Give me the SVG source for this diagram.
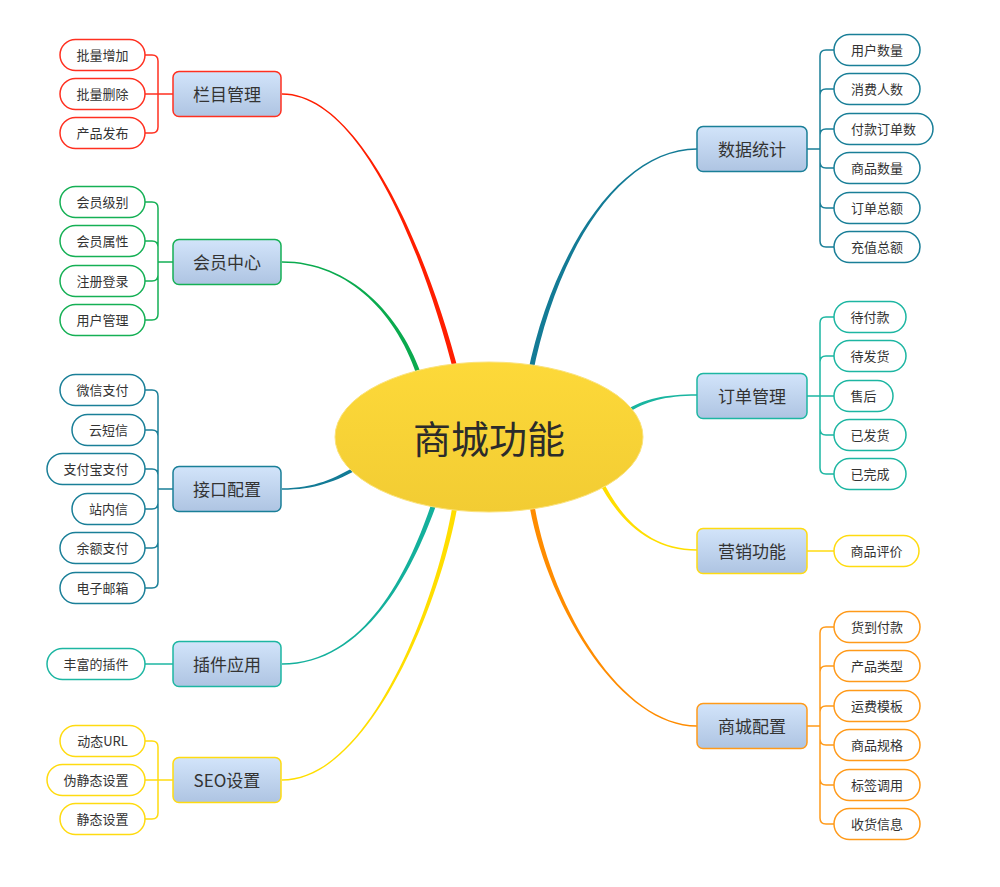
<svg xmlns="http://www.w3.org/2000/svg" width="1000" height="887" viewBox="0 0 1000 887">
<defs>
<linearGradient id="gBox" x1="0" y1="0" x2="0" y2="1"><stop offset="0" stop-color="#D2E4FA"/><stop offset="1" stop-color="#AEC4E2"/></linearGradient>
<linearGradient id="gCenter" x1="0" y1="0" x2="0" y2="1"><stop offset="0" stop-color="#FDD939"/><stop offset="1" stop-color="#F2CC33"/></linearGradient>
</defs>
<style>
text{font-family:"Noto Sans CJK SC","Noto Sans",sans-serif;fill:#333;text-anchor:middle;dominant-baseline:central;transform:translateY(-1px)}
.box{fill:url(#gBox);stroke-width:1.5}
.bt{font-size:17px}
.leaf rect{fill:#fff;stroke-width:1.5}
.leaf text{font-size:13px}
.ln{fill:none;stroke-width:1.5}
.red{stroke:#FF3020}.green{stroke:#15B055}.dteal{stroke:#1A7F98}.teal{stroke:#1DB6A2}.yel{stroke:#FFDB10}.org{stroke:#FF9A1A}
</style>
<rect width="1000" height="887" fill="#fff"/>
<g id="connectors">
<path fill="#FF1E00" d="M282,94.75 C360,94.75 423.1,250.5 454.6,375.6 L459.4,374.4 C426.9,249.5 360,93.25 282,93.25 Z"/>
<path fill="#0AAA4E" d="M282,262.75 C350,262.75 398.3,315.55 418.8,380.7 L423.2,379.3 C401.7,314.45 350,261.25 282,261.25 Z"/>
<path fill="#137B96" d="M697,148.25 C620,148.25 553,249.6 527.5,374.5 L532.5,375.5 C557,250.4 620,149.75 697,149.75 Z"/>
<path fill="#137B96" d="M282,489.75 C315,489.75 335.8,481.4 361,467.75 L359,464.25 C334.2,478.6 315,488.25 282,488.25 Z"/>
<path fill="#14B09C" d="M282,664.75 C370,664.75 416.9,560.6 438.4,498.8 L433.6,497.2 C413.1,559.4 370,663.25 282,663.25 Z"/>
<path fill="#FFDE00" d="M282,780.75 C370,780.75 442,600.3 458.5,500.4 L453.5,499.6 C438,599.7 370,779.25 282,779.25 Z"/>
<path fill="#19B5A0" d="M697,394.25 C665,394.25 644.25,398.8 625,410.5 L627,413.5 C645.75,401.2 665,395.75 697,395.75 Z"/>
<path fill="#FFDE00" d="M697,549.25 C650,549.25 621.4,519.3 601.8,479.1 L598.2,480.9 C618.6,520.7 650,550.75 697,550.75 Z"/>
<path fill="#FF8C00" d="M697,725.25 C620,725.25 550,604.7 533.5,499.6 L528.5,500.4 C546,605.3 620,726.75 697,726.75 Z"/>
<path class="ln red" d="M173,94H158M158,94V61Q158,55 152,55H145M158,94H145M158,94V127Q158,133 152,133H145"/>
<path class="ln green" d="M173,262H158M158,262V208Q158,202 152,202H145M158,262V247Q158,241 152,241H145M158,262V275Q158,281 152,281H145M158,262V314Q158,320 152,320H145"/>
<path class="ln dteal" d="M173,489H158M158,489V396Q158,390 152,390H145M158,489V436Q158,430 152,430H145M158,489V475Q158,469 152,469H145M158,489V503Q158,509 152,509H145M158,489V542Q158,548 152,548H145M158,489V582Q158,588 152,588H145"/>
<path class="ln teal" d="M173,664H145"/>
<path class="ln yel" d="M173,780H158M158,780V747Q158,741 152,741H145M158,780H145M158,780V813Q158,819 152,819H145"/>
<path class="ln dteal" d="M807,149H820M820,149V56Q820,50 826,50H834M820,149V95Q820,89 826,89H834M820,149V135Q820,129 826,129H834M820,149V162Q820,168 826,168H834M820,149V202Q820,208 826,208H834M820,149V241Q820,247 826,247H834"/>
<path class="ln teal" d="M807,396H820M820,396V323Q820,317 826,317H834M820,396V362Q820,356 826,356H834M820,396H834M820,396V429Q820,435 826,435H834M820,396V468Q820,474 826,474H834"/>
<path class="ln yel" d="M807,551H834"/>
<path class="ln org" d="M807,726H820M820,726V633Q820,627 826,627H834M820,726V672Q820,666 826,666H834M820,726V712Q820,706 826,706H834M820,726V739Q820,745 826,745H834M820,726V779Q820,785 826,785H834M820,726V818Q820,824 826,824H834"/>
</g>
<g id="center">
<ellipse cx="489" cy="437" rx="154" ry="75" fill="url(#gCenter)" stroke="#FBE27A" stroke-width="1"/>
<text x="489" y="437" font-size="38" style="fill:#2B2B2B">商城功能</text>
</g>
<g id="n-lanmu"><rect class="box red" x="173" y="71.5" width="108" height="45" rx="6"/><text class="bt" x="227" y="94">栏目管理</text></g>
<g id="n-huiyuan"><rect class="box green" x="173" y="239.5" width="108" height="45" rx="6"/><text class="bt" x="227" y="262">会员中心</text></g>
<g id="n-jiekou"><rect class="box dteal" x="173" y="466.5" width="108" height="45" rx="6"/><text class="bt" x="227" y="489">接口配置</text></g>
<g id="n-chajian"><rect class="box teal" x="173" y="641.5" width="108" height="45" rx="6"/><text class="bt" x="227" y="664">插件应用</text></g>
<g id="n-seo"><rect class="box yel" x="173" y="757.5" width="108" height="45" rx="6"/><text class="bt" x="227" y="780">SEO设置</text></g>
<g id="n-shuju"><rect class="box dteal" x="697" y="126.5" width="110" height="45" rx="6"/><text class="bt" x="752" y="149">数据统计</text></g>
<g id="n-dingdan"><rect class="box teal" x="697" y="373.5" width="110" height="45" rx="6"/><text class="bt" x="752" y="396">订单管理</text></g>
<g id="n-yingxiao"><rect class="box yel" x="697" y="528.5" width="110" height="45" rx="6"/><text class="bt" x="752" y="551">营销功能</text></g>
<g id="n-peizhi"><rect class="box org" x="697" y="703.5" width="110" height="45" rx="6"/><text class="bt" x="752" y="726">商城配置</text></g>
<g id="l-lanmu">
<g class="leaf" id="l1"><rect class="red" x="60" y="39.5" width="85" height="31" rx="15.5"/><text x="102.5" y="55">批量增加</text></g>
<g class="leaf" id="l2"><rect class="red" x="60" y="78.5" width="85" height="31" rx="15.5"/><text x="102.5" y="94">批量删除</text></g>
<g class="leaf" id="l3"><rect class="red" x="60" y="117.5" width="85" height="31" rx="15.5"/><text x="102.5" y="133">产品发布</text></g>
</g>
<g id="l-huiyuan">
<g class="leaf" id="l4"><rect class="green" x="60" y="186.5" width="85" height="31" rx="15.5"/><text x="102.5" y="202">会员级别</text></g>
<g class="leaf" id="l5"><rect class="green" x="60" y="225.5" width="85" height="31" rx="15.5"/><text x="102.5" y="241">会员属性</text></g>
<g class="leaf" id="l6"><rect class="green" x="60" y="265.5" width="85" height="31" rx="15.5"/><text x="102.5" y="281">注册登录</text></g>
<g class="leaf" id="l7"><rect class="green" x="60" y="304.5" width="85" height="31" rx="15.5"/><text x="102.5" y="320">用户管理</text></g>
</g>
<g id="l-jiekou">
<g class="leaf" id="l8"><rect class="dteal" x="60" y="374.5" width="85" height="31" rx="15.5"/><text x="102.5" y="390">微信支付</text></g>
<g class="leaf" id="l9"><rect class="dteal" x="72" y="414.5" width="73" height="31" rx="15.5"/><text x="108.5" y="430">云短信</text></g>
<g class="leaf" id="l10"><rect class="dteal" x="47" y="453.5" width="98" height="31" rx="15.5"/><text x="96" y="469">支付宝支付</text></g>
<g class="leaf" id="l11"><rect class="dteal" x="72" y="493.5" width="73" height="31" rx="15.5"/><text x="108.5" y="509">站内信</text></g>
<g class="leaf" id="l12"><rect class="dteal" x="60" y="532.5" width="85" height="31" rx="15.5"/><text x="102.5" y="548">余额支付</text></g>
<g class="leaf" id="l13"><rect class="dteal" x="60" y="572.5" width="85" height="31" rx="15.5"/><text x="102.5" y="588">电子邮箱</text></g>
</g>
<g id="l-chajian">
<g class="leaf" id="l14"><rect class="teal" x="47" y="648.5" width="98" height="31" rx="15.5"/><text x="96" y="664">丰富的插件</text></g>
</g>
<g id="l-seo">
<g class="leaf" id="l15"><rect class="yel" x="60" y="725.5" width="85" height="31" rx="15.5"/><text x="102.5" y="741">动态URL</text></g>
<g class="leaf" id="l16"><rect class="yel" x="47" y="764.5" width="98" height="31" rx="15.5"/><text x="96" y="780">伪静态设置</text></g>
<g class="leaf" id="l17"><rect class="yel" x="60" y="803.5" width="85" height="31" rx="15.5"/><text x="102.5" y="819">静态设置</text></g>
</g>
<g id="l-shuju">
<g class="leaf" id="r1"><rect class="dteal" x="834" y="34.5" width="86" height="31" rx="15.5"/><text x="877" y="50">用户数量</text></g>
<g class="leaf" id="r2"><rect class="dteal" x="834" y="73.5" width="86" height="31" rx="15.5"/><text x="877" y="89">消费人数</text></g>
<g class="leaf" id="r3"><rect class="dteal" x="834" y="113.5" width="99" height="31" rx="15.5"/><text x="883.5" y="129">付款订单数</text></g>
<g class="leaf" id="r4"><rect class="dteal" x="834" y="152.5" width="86" height="31" rx="15.5"/><text x="877" y="168">商品数量</text></g>
<g class="leaf" id="r5"><rect class="dteal" x="834" y="192.5" width="86" height="31" rx="15.5"/><text x="877" y="208">订单总额</text></g>
<g class="leaf" id="r6"><rect class="dteal" x="834" y="231.5" width="86" height="31" rx="15.5"/><text x="877" y="247">充值总额</text></g>
</g>
<g id="l-dingdan">
<g class="leaf" id="r7"><rect class="teal" x="834" y="301.5" width="72" height="31" rx="15.5"/><text x="870" y="317">待付款</text></g>
<g class="leaf" id="r8"><rect class="teal" x="834" y="340.5" width="72" height="31" rx="15.5"/><text x="870" y="356">待发货</text></g>
<g class="leaf" id="r9"><rect class="teal" x="834" y="380.5" width="59" height="31" rx="15.5"/><text x="863.5" y="396">售后</text></g>
<g class="leaf" id="r10"><rect class="teal" x="834" y="419.5" width="72" height="31" rx="15.5"/><text x="870" y="435">已发货</text></g>
<g class="leaf" id="r11"><rect class="teal" x="834" y="458.5" width="72" height="31" rx="15.5"/><text x="870" y="474">已完成</text></g>
</g>
<g id="l-yingxiao">
<g class="leaf" id="r12"><rect class="yel" x="834" y="535.5" width="85" height="31" rx="15.5"/><text x="876.5" y="551">商品评价</text></g>
</g>
<g id="l-peizhi">
<g class="leaf" id="r13"><rect class="org" x="834" y="611.5" width="86" height="31" rx="15.5"/><text x="877" y="627">货到付款</text></g>
<g class="leaf" id="r14"><rect class="org" x="834" y="650.5" width="86" height="31" rx="15.5"/><text x="877" y="666">产品类型</text></g>
<g class="leaf" id="r15"><rect class="org" x="834" y="690.5" width="86" height="31" rx="15.5"/><text x="877" y="706">运费模板</text></g>
<g class="leaf" id="r16"><rect class="org" x="834" y="729.5" width="86" height="31" rx="15.5"/><text x="877" y="745">商品规格</text></g>
<g class="leaf" id="r17"><rect class="org" x="834" y="769.5" width="86" height="31" rx="15.5"/><text x="877" y="785">标签调用</text></g>
<g class="leaf" id="r18"><rect class="org" x="834" y="808.5" width="86" height="31" rx="15.5"/><text x="877" y="824">收货信息</text></g>
</g>
</svg>
